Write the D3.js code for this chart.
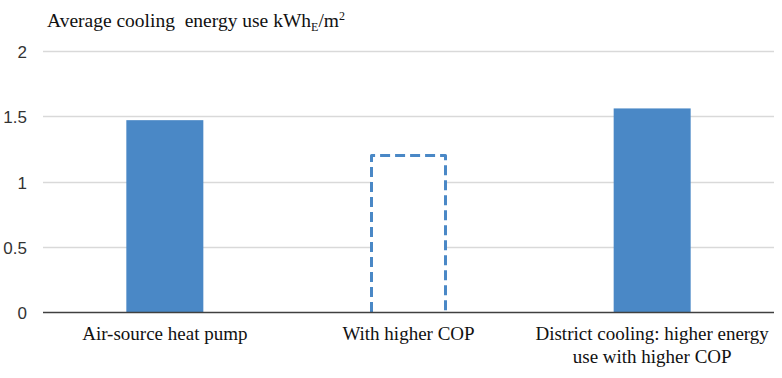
<!DOCTYPE html>
<html>
<head>
<meta charset="utf-8">
<script src="https://cdn.jsdelivr.net/npm/d3@7"></script>
<style>
  body { margin: 0; background: #fff; }
</style>
</head>
<body>
<script>
// dati del grafico
var categories = [
    ["Air-source heat pump"],
    ["With higher COP"],
    ["District cooling: higher energy", "use with higher COP"]
];
var values = [1.47, 1.21, 1.56];
var dashed = [false, true, false];   // la seconda barra e' solo tratteggiata
var yTicks = [0, 0.5, 1, 1.5, 2];
var yTickLabels = ["0", "0.5", "1", "1.5", "2"];

var w = 782;
var h = 378;
var margin = {left: 43, right: 8, top: 51, bottom: 66};
var serif = "'Liberation Serif'";
var sans = "'Liberation Sans'";

var svg = d3.select("body")
            .append("svg")
            .attr("width", w)
            .attr("height", h);

var x = d3.scaleBand()
          .domain(d3.range(values.length))
          .range([margin.left, w - margin.right])
          .paddingInner(0.684)
          .paddingOuter(0.342);

var y = d3.scaleLinear()
          .domain([0, 2])
          .range([h - margin.bottom, margin.top]);

// griglia orizzontale
svg.append("g")
   .selectAll("line")
   .data(yTicks.filter(t => t > 0))
   .join("line")
   .attr("x1", margin.left)
   .attr("x2", w - margin.right)
   .attr("y1", d => Math.round(y(d)) + 0.5)
   .attr("y2", d => Math.round(y(d)) + 0.5)
   .attr("stroke", "#d9d9d9")
   .attr("stroke-width", 1.3);

// etichette asse y
svg.append("g")
   .selectAll("text")
   .data(yTicks)
   .join("text")
   .attr("x", 27)
   .attr("y", d => y(d) + 7)
   .attr("text-anchor", "end")
   .style("font-family", sans)
   .attr("font-size", 17)
   .attr("fill", "#333")
   .text((d, i) => yTickLabels[i]);

// barre piene
svg.append("g")
   .selectAll("rect")
   .data(values.map((v, i) => ({v: v, i: i})).filter(d => !dashed[d.i]))
   .join("rect")
   .attr("x", d => x(d.i))
   .attr("y", d => y(d.v))
   .attr("width", x.bandwidth())
   .attr("height", d => y(0) - y(d.v))
   .attr("fill", "#4a88c6");

// barra tratteggiata (solo tre lati, il fondo coincide con l'asse)
svg.append("g")
   .selectAll("path")
   .data(values.map((v, i) => ({v: v, i: i})).filter(d => dashed[d.i]))
   .join("path")
   .attr("d", d => {
       var x0 = x(d.i) + 1.5, x1 = x(d.i) + x.bandwidth() - 1.5;
       var y0 = y(0), y1 = y(d.v) + 1.5;
       return "M" + x0 + "," + y0 + "V" + y1 + "H" + x1 + "V" + y0;
   })
   .attr("fill", "#fff")
   .attr("stroke", "#4a88c6")
   .attr("stroke-width", 3)
   .attr("stroke-linejoin", "round")
   .attr("stroke-dasharray", "10,5");

// asse x
svg.append("line")
   .attr("x1", margin.left)
   .attr("x2", w - margin.right)
   .attr("y1", y(0) + 0.5)
   .attr("y2", y(0) + 0.5)
   .attr("stroke", "#404040")
   .attr("stroke-width", 1.5);

// etichette categorie
var lab = svg.append("g")
   .selectAll("text")
   .data(categories)
   .join("text")
   .attr("text-anchor", "middle")
   .style("font-family", serif)
   .attr("font-size", 19)
   .attr("fill", "#111")
   .attr("y", 340);

lab.selectAll("tspan")
   .data((d, i) => d.map(s => ({s: s, i: i})))
   .join("tspan")
   .attr("x", d => x(d.i) + x.bandwidth() / 2)
   .attr("dy", (d, j) => j === 0 ? 0 : 23)
   .text(d => d.s);

// titolo
var title = svg.append("text")
   .attr("x", 47)
   .attr("y", 27)
   .style("font-family", serif)
   .attr("font-size", 19.5)
   .attr("fill", "#111");
title.append("tspan").text("Average cooling\u00a0 energy use kWh");
title.append("tspan").attr("font-size", 12).attr("dy", 4).text("E");
title.append("tspan").attr("dy", -4).text("/m");
title.append("tspan").attr("font-size", 12).attr("dy", -7).text("2");
</script>
</body>
</html>
